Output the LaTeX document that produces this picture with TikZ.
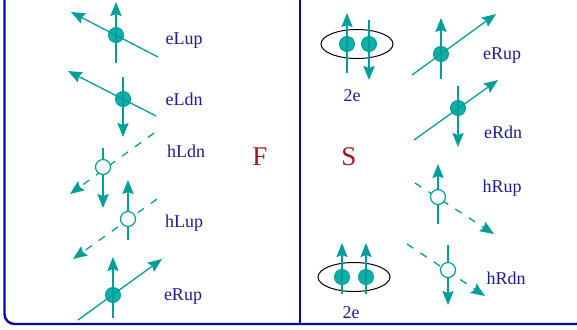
\documentclass[tikz,border=0pt]{standalone}
\usepackage{fontspec}
\setmainfont{Liberation Serif}
\usetikzlibrary{arrows.meta, shapes.geometric}
\definecolor{cSpin}{HTML}{009E9A}
\definecolor{cDot}{HTML}{12AEA8}
\definecolor{cLbl}{HTML}{1C1C8E}
\definecolor{cFrame}{HTML}{0A0AA0}
\definecolor{cSide}{HTML}{A01818}

\begin{document}
\begin{tikzpicture}[
    x=0.5pt, y=-0.5pt, font=\fontsize{9}{11}\selectfont,
    elec/.style={circle, fill=cDot, draw=cSpin, line width=0.5pt,
                 minimum size=7.5pt, inner sep=0pt},
    hole/.style={circle, fill=white, draw=cSpin, line width=0.6pt,
                 minimum size=7.5pt, inner sep=0pt},
    spin/.style={-{Stealth[length=7pt, width=5.6pt, inset=1pt]},
                 line width=0.65pt, cSpin},
    spinh/.style={spin, dash pattern=on 3.8pt off 4.2pt},
    pair/.style={ellipse, draw=black, line width=0.5pt,
                 minimum width=36pt, minimum height=14.5pt},
    lbl/.style={text=cLbl, inner sep=0pt},
    side/.style={text=cSide, font=\fontsize{13.5}{15}\selectfont, inner sep=0pt},
    frame/.style={draw=cFrame, line width=1.2pt},
]
\useasboundingbox (0,0) rectangle (577,329);
\clip (0,0) rectangle (577,329);

% ===================== Marco y separador =====================
\draw[frame, rounded corners=5pt] (4.5,-30) rectangle (586,324);
\draw[frame] (300,-30) -- (300,324);

% ===================== Lado F =====================
\node[side] (lblF) at (260,157) {F};

% eLup
\node[elec] (eLup) at (116,35) {};
\coordinate (eLup-vb) at (116,63); \coordinate (eLup-vt) at (116,2);
\coordinate (eLup-db) at (158,57); \coordinate (eLup-dt) at (71,12);
\draw[spin] (eLup-vb) -- (eLup-vt);
\draw[spin] (eLup-db) -- (eLup-dt);
\node[lbl] (teLup) at (184,41) {eLup};

% eLdn
\node[elec] (eLdn) at (123,99) {};
\coordinate (eLdn-vt) at (123,77); \coordinate (eLdn-vb) at (123,137);
\coordinate (eLdn-db) at (156,116); \coordinate (eLdn-dt) at (68,71);
\draw[spin] (eLdn-vt) -- (eLdn-vb);
\draw[spin] (eLdn-db) -- (eLdn-dt);
\node[lbl] (teLdn) at (184,99) {eLdn};

% hLdn
\coordinate (hLdn-vt) at (103,148); \coordinate (hLdn-vb) at (103,208);
\coordinate (hLdn-dt) at (154,133); \coordinate (hLdn-db) at (70,194);
\draw[spin] (hLdn-vt) -- (hLdn-vb);
\draw[spinh] (hLdn-dt) -- (hLdn-db);
\node[hole] (hLdn) at (103,167) {};
\node[lbl] (thLdn) at (186,151) {hLdn};

% hLup
\coordinate (hLup-vb) at (128,240); \coordinate (hLup-vt) at (128,180);
\coordinate (hLup-dt) at (157,199); \coordinate (hLup-db) at (73,259);
\draw[spin] (hLup-vb) -- (hLup-vt);
\draw[spinh] (hLup-dt) -- (hLup-db);
\node[hole] (hLup) at (128,219) {};
\node[lbl] (thLup) at (184,223) {hLup};

% eRup (F)
\node[elec] (eRupF) at (113,295) {};
\coordinate (eRupF-vb) at (113,318); \coordinate (eRupF-vt) at (113,257);
\coordinate (eRupF-db) at (78,320); \coordinate (eRupF-dt) at (162,259);
\draw[spin] (eRupF-vb) -- (eRupF-vt);
\draw[spin] (eRupF-db) -- (eRupF-dt);
\node[lbl] (teRupF) at (183,297) {eRup};

% ===================== Lado S =====================
\node[side] (lblS) at (349,157) {S};

% par de Cooper superior
\node[pair] (pairT) at (357,44) {};
\node[elec] (pairT-a) at (347,44) {};
\node[elec] (pairT-b) at (369,44) {};
\coordinate (pairT-ab) at (347,73); \coordinate (pairT-at) at (347,13);
\coordinate (pairT-bt) at (369,20); \coordinate (pairT-bb) at (369,80);
\draw[spin] (pairT-ab) -- (pairT-at);
\draw[spin] (pairT-bt) -- (pairT-bb);
\node[lbl] (tpairT) at (352,96) {2e};

% eRup (S)
\node[elec] (eRupS) at (441,54) {};
\coordinate (eRupS-vb) at (441,79); \coordinate (eRupS-vt) at (441,18);
\coordinate (eRupS-db) at (412,75); \coordinate (eRupS-dt) at (496,14);
\draw[spin] (eRupS-vb) -- (eRupS-vt);
\draw[spin] (eRupS-db) -- (eRupS-dt);
\node[lbl] (teRupS) at (502,56) {eRup};

% eRdn
\node[elec] (eRdn) at (458,108) {};
\coordinate (eRdn-vt) at (458,86); \coordinate (eRdn-vb) at (458,147);
\coordinate (eRdn-db) at (414,140); \coordinate (eRdn-dt) at (498,80);
\draw[spin] (eRdn-vt) -- (eRdn-vb);
\draw[spin] (eRdn-db) -- (eRdn-dt);
\node[lbl] (teRdn) at (503,132) {eRdn};

% hRup
\coordinate (hRup-vb) at (438,224); \coordinate (hRup-vt) at (438,164);
\coordinate (hRup-dt) at (415,183); \coordinate (hRup-db) at (494,234);
\draw[spin] (hRup-vb) -- (hRup-vt);
\draw[spinh] (hRup-dt) -- (hRup-db);
\node[hole] (hRup) at (438,197) {};
\node[lbl] (thRup) at (502,188) {hRup};

% hRdn
\coordinate (hRdn-vt) at (448,245); \coordinate (hRdn-vb) at (448,305);
\coordinate (hRdn-dt) at (407,244); \coordinate (hRdn-db) at (485,296);
\draw[spin] (hRdn-vt) -- (hRdn-vb);
\draw[spinh] (hRdn-dt) -- (hRdn-db);
\node[hole] (hRdn) at (448,270) {};
\node[lbl] (thRdn) at (506,278) {hRdn};

% par de Cooper inferior
\node[pair] (pairB) at (354,277) {};
\node[elec] (pairB-a) at (342,277) {};
\node[elec] (pairB-b) at (366,277) {};
\coordinate (pairB-ab) at (342,294); \coordinate (pairB-at) at (342,243);
\coordinate (pairB-bb) at (366,294); \coordinate (pairB-bt) at (366,243);
\draw[spin] (pairB-ab) -- (pairB-at);
\draw[spin] (pairB-bb) -- (pairB-bt);
\node[lbl] (tpairB) at (351,313) {2e};

\end{tikzpicture}
\end{document}
